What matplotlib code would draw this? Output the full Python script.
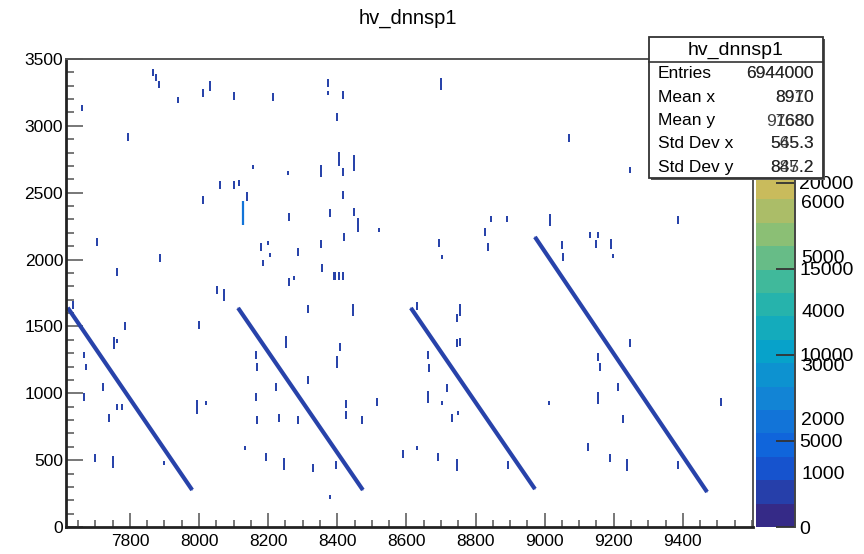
import numpy as np
import matplotlib
matplotlib.use("Agg")
import matplotlib.pyplot as plt
from matplotlib.colors import LinearSegmentedColormap, ListedColormap, Normalize
from matplotlib.patches import Rectangle
import matplotlib.colorbar as mcolorbar

plt.rcParams['font.family'] = ['Liberation Sans', 'DejaVu Sans']

# diagonal bands (start x, start y, end x, end y)
band_x0 = [7620, 8113, 8613, 8972]
band_y0 = [1640, 1638, 1638, 2169]
band_x1 = [7980, 8474, 8972, 9470]
band_y1 = [277, 277, 284, 262]

# scattered small clusters: x, y centre, y extent
mark_x = [7866, 7875, 7884, 7661, 7939, 8011, 8032, 8101, 8214, 8373, 8373, 8417, 8700,
          7794, 8399, 8405, 8449, 8417, 8156, 8257, 8353, 8061, 8101, 8116, 8011, 8139,
          8417, 8379, 8449, 8460, 8521, 8260, 8420, 8179, 8200, 8205, 8286, 8353, 8694,
          8185, 8356, 8392, 8405, 8417, 8260, 8275, 8052, 8072, 8828, 8836, 8845, 8891,
          9016, 8703, 9050, 9053, 9132, 9155, 9149, 9192, 9198, 9386, 9071, 9247, 7705,
          7763, 7887,
          7635, 7786, 8000, 7754, 7763, 7667, 7673, 7722, 7667, 7763, 7777, 7739, 7994,
          8020, 7699, 7751, 7899, 8165, 8168, 8252, 8223, 8165, 8168, 8231, 8286, 8133,
          8194, 8246, 8315, 8446, 8408, 8399, 8315, 8425, 8425, 8515, 8472, 8330, 8396,
          8379, 8631, 8755, 8747, 8747, 8755, 8663, 8666, 8718, 8663, 8703, 8732, 8749,
          8590, 8631, 8692, 8747, 8894, 9247, 9155, 9160, 9212, 9155, 9013, 9227, 9126,
          9189, 9239, 9386, 9511]
mark_y = [3400, 3360, 3310, 3134, 3194, 3246, 3298, 3223, 3216, 3321, 3246, 3231, 3313,
          2917, 3066, 2752, 2722, 2655, 2692, 2648, 2663, 2558, 2558, 2573, 2446, 2470,
          2483, 2348, 2356, 2259, 2221, 2318, 2169, 2094, 2124, 2034, 2057, 2117, 2124,
          1974, 1937, 1877, 1877, 1877, 1832, 1862, 1773, 1735, 2206, 2094, 2304, 2304,
          2296, 2019, 2109, 2019, 2184, 2184, 2117, 2117, 2027, 2296, 2909, 2670, 2131,
          1907, 2012,
          1660, 1503, 1511, 1376, 1391, 1286, 1197, 1047, 972, 897, 897, 815, 897,
          927, 516, 486, 479, 1286, 1197, 1384, 1047, 972, 800, 815, 800, 591,
          524, 471, 1630, 1623, 1346, 1234, 1099, 920, 838, 935, 800, 441, 464,
          224, 1653, 1623, 1563, 1376, 1384, 1286, 1189, 1040, 972, 927, 815, 853,
          546, 591, 524, 464, 464, 1376, 1271, 1197, 1047, 965, 927, 808, 598,
          516, 464, 464, 935]
mark_h = [50, 50, 50, 50, 50, 60, 80, 60, 60, 60, 30, 60, 90,
          60, 60, 100, 120, 60, 30, 30, 90, 60, 60, 40, 60, 70,
          60, 60, 60, 100, 25, 60, 60, 60, 25, 25, 60, 60, 60,
          50, 60, 60, 60, 60, 60, 25, 60, 90, 60, 60, 40, 40,
          90, 25, 60, 60, 40, 40, 60, 80, 25, 60, 60, 40, 60,
          60, 60,
          60, 60, 60, 90, 25, 40, 40, 60, 60, 40, 40, 60, 100,
          25, 60, 90, 25, 60, 60, 90, 60, 60, 60, 60, 60, 25,
          60, 90, 60, 90, 60, 90, 60, 60, 60, 60, 60, 60, 60,
          25, 60, 90, 60, 60, 60, 60, 60, 60, 90, 25, 60, 25,
          60, 25, 60, 90, 60, 60, 60, 60, 60, 90, 25, 60, 60,
          60, 90, 60, 60]

# brighter streak under the cluster near x=8130
hot_x = [8127]
hot_y0 = [2259]
hot_y1 = [2440]

xmin, xmax = 7615, 9603
ymin, ymax = 0, 3500
zmax_a = 27200
zmax_b = 8640
cb_ticks_a = [0, 5000, 10000, 15000, 20000]
cb_ticks_b = [1000, 2000, 3000, 4000, 5000, 6000]

# kBird palette, 20 contour levels
bird = LinearSegmentedColormap.from_list('bird', [
    (0.000, (0.2082, 0.1664, 0.5293)),
    (0.125, (0.0592, 0.3599, 0.8684)),
    (0.250, (0.0780, 0.5041, 0.8385)),
    (0.375, (0.0232, 0.6419, 0.7914)),
    (0.500, (0.1802, 0.7178, 0.6425)),
    (0.625, (0.5301, 0.7492, 0.4662)),
    (0.750, (0.8186, 0.7328, 0.3499)),
    (0.875, (0.9956, 0.7862, 0.1968)),
    (1.000, (0.9764, 0.9832, 0.0539))])
levels = ListedColormap([bird(i / 19) for i in range(20)])
mark_col = '#2944aa'

fig = plt.figure(figsize=(8.64, 5.54), dpi=100)
ax = fig.add_axes([66/864, 1-527/554, (753-66)/864, (527-59)/554])

for x0, y0, x1, y1 in zip(band_x0, band_y0, band_x1, band_y1):
    ax.plot([x0, x1], [y0, y1], color=mark_col, lw=3.0, solid_capstyle='butt')
    ax.plot([x0, x1], [y0, y1], color=levels(1), lw=1.0, alpha=0.5)

ax.bar(mark_x, mark_h, bottom=np.array(mark_y) - np.array(mark_h) / 2,
       width=7, color=mark_col, linewidth=0)
ax.vlines(hot_x, hot_y0, hot_y1, color=levels(4), lw=1.6)

ax.set_xlim(xmin, xmax)
ax.set_ylim(ymin, ymax)
ax.set_xticks(np.arange(7800, 9401, 200))
ax.set_xticks(np.arange(7650, 9601, 50), minor=True)
ax.set_yticks(np.arange(0, 3501, 500))
ax.set_yticks(np.arange(0, 3501, 100), minor=True)
ax.tick_params(axis='both', which='both', direction='in', color='#777777',
               width=1.4, labelsize=12.5)
ax.tick_params(axis='x', which='major', length=10, pad=5)
ax.tick_params(axis='x', which='minor', length=5)
ax.tick_params(axis='y', which='major', length=12, pad=2)
ax.tick_params(axis='y', which='minor', length=6)
for side in ['top', 'right']:
    ax.spines[side].set_color('#555555')
    ax.spines[side].set_linewidth(1.4)
for side in ['left', 'bottom']:
    ax.spines[side].set_color('#222222')
    ax.spines[side].set_linewidth(2)

fig.text(408/864, 1-18/554, 'hv_dnnsp1', ha='center', va='center', fontsize=14.5)

# colour palette axis
cax = fig.add_axes([756/864, 1-527/554, 39/864, (527-59)/554])
cb = mcolorbar.ColorbarBase(cax, cmap=levels, norm=Normalize(0, zmax_a),
                            orientation='vertical')
cb.outline.set_visible(False)
cax.spines['right'].set_visible(True)
cax.spines['right'].set_color('#444444')
cax.spines['right'].set_linewidth(1.4)
cb.set_ticks(cb_ticks_a)
cax.yaxis.set_ticks_position('right')
cax.tick_params(axis='y', direction='in', length=14, width=1.3, color='#333333',
                labelsize=14, pad=3)
cax.minorticks_off()
cax2 = fig.add_axes(cax.get_position(), frameon=False)
cax2.set_xticks([])
cax2.set_ylim(0, zmax_b)
cax2.yaxis.tick_right()
cax2.set_yticks(cb_ticks_b)
cax2.tick_params(axis='y', length=0, labelsize=14, pad=4.5)
cax2.patch.set_alpha(0)

# statistics box (two boxes drawn on top of each other)
bx0, bx1, by0, by1 = 649/864, 823/864, 1-178/554, 1-37/554
fig.patches.append(Rectangle((bx0 + 2/864, by0 - 2/554), bx1 - bx0, by1 - by0,
                             transform=fig.transFigure, facecolor='#555555',
                             edgecolor='none', zorder=10))
fig.patches.append(Rectangle((bx0, by0), bx1 - bx0, by1 - by0,
                             transform=fig.transFigure, facecolor='white',
                             edgecolor='#333333', lw=1.3, zorder=11))
fig.lines.append(plt.Line2D([bx0, bx1], [1-62/554, 1-62/554],
                            transform=fig.transFigure, color='#333333', lw=1.2, zorder=12))
fig.text((bx0 + bx1) / 2, 1-50/554, 'hv_dnnsp1', ha='center', va='center',
         fontsize=14, zorder=13)
stat_names = ['Entries', 'Mean x', 'Mean y', 'Std Dev x', 'Std Dev y']
stat_vals_a = ['6944000', '8970', '97680', '565.3', '845.2']
stat_vals_b = ['6944000', '8910', '1680', '545.3', '887.2']
stat_rows = [74, 98, 121, 144, 167]
for name, va_, vb_, row in zip(stat_names, stat_vals_a, stat_vals_b, stat_rows):
    fig.text(658/864, 1-row/554, name, ha='left', va='center', fontsize=12.5, zorder=13)
    for v in (va_, vb_):
        fig.text(814/864, 1-row/554, v, ha='right', va='center', fontsize=12.5,
                 color='#222222', alpha=0.85, zorder=13)

fig.savefig('out.png', dpi=100)
